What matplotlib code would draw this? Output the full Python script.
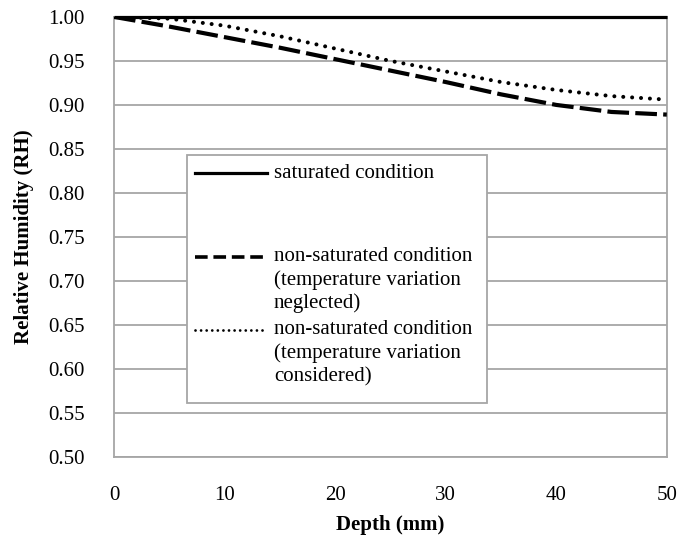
import matplotlib.pyplot as plt
from matplotlib.lines import Line2D
from matplotlib.patches import Rectangle

plt.rcParams['font.family'] = ['Liberation Serif', 'DejaVu Serif']

# Data
depth = [0, 5, 10, 15, 20, 25, 30, 35, 40, 45, 50]
rh_saturated = [1.0, 1.0, 1.0, 1.0, 1.0, 1.0, 1.0, 1.0, 1.0, 1.0, 1.0]
rh_temp_neglected = [1.0, 0.989, 0.977, 0.965, 0.952, 0.939, 0.926, 0.912, 0.900, 0.892, 0.889]
rh_temp_considered = [1.0, 0.998, 0.990, 0.978, 0.964, 0.950, 0.938, 0.926, 0.917, 0.910, 0.906]

labels = [
    ["saturated condition"],
    ["non-saturated condition", "(temperature variation", "neglected)"],
    ["non-saturated condition", "(temperature variation", "considered)"],
]

x_ticks = [0, 10, 20, 30, 40, 50]
y_ticks = [0.50, 0.55, 0.60, 0.65, 0.70, 0.75, 0.80, 0.85, 0.90, 0.95, 1.00]

GRID = '#a6a6a6'
FS = 15

fig = plt.figure(figsize=(6.79, 5.45), dpi=100)
ax = fig.add_axes([0.168, 0.1615, 0.814, 0.8075])

ax.plot(depth, rh_saturated, color='black', lw=2.3, solid_capstyle='butt', zorder=3, clip_on=False)
ax.plot(depth, rh_temp_neglected, color='black', lw=3.0, dashes=(5.2, 1.5), zorder=3)
ax.plot(depth, rh_temp_considered, color='black', lw=2.9, dashes=(0.01, 2.2),
        dash_capstyle='round', zorder=3)

ax.set_xlim(0, 50)
ax.set_ylim(0.5, 1.0)
ax.set_xticks(x_ticks)
ax.set_yticks(y_ticks)
ax.set_yticklabels([f"{v:.2f}" for v in y_ticks])
ax.tick_params(axis='both', length=0, labelsize=FS)
ax.tick_params(axis='x', pad=21)
ax.tick_params(axis='y', pad=21)

ax.grid(axis='y', color=GRID, lw=1.3)
ax.set_axisbelow(True)
for s in ax.spines.values():
    s.set_color(GRID)
    s.set_linewidth(1.3)

ax.set_xlabel('Depth (mm)', fontsize=FS, fontweight='bold', labelpad=7)
ax.set_ylabel('Relative Humidity (RH)', fontsize=FS, fontweight='bold', labelpad=10)

# legend drawn by hand so handles line up with the first text line
ax.add_patch(Rectangle((0.132, 0.123), 0.5425, 0.563, transform=ax.transAxes,
                       facecolor='white', edgecolor=GRID, lw=1.3, zorder=5))
styles = [dict(lw=2.3), dict(lw=2.6, dashes=(3.5, 1.6)), dict(lw=2.0, dashes=(0.01, 2.0), dash_capstyle='round')]
entry_y = [0.645, 0.4545, 0.2886]
line_step = 0.053
for lab, y0, st in zip(labels, entry_y, styles):
    ax.add_line(Line2D([0.1465, 0.2767], [y0, y0], color='black', transform=ax.transAxes,
                       zorder=6, **st))
    for i, txt in enumerate(lab):
        ax.text(0.289, y0 - i * line_step, txt, transform=ax.transAxes, fontsize=FS,
                va='center', ha='left', zorder=6)

fig.savefig('out.png', dpi=100)
